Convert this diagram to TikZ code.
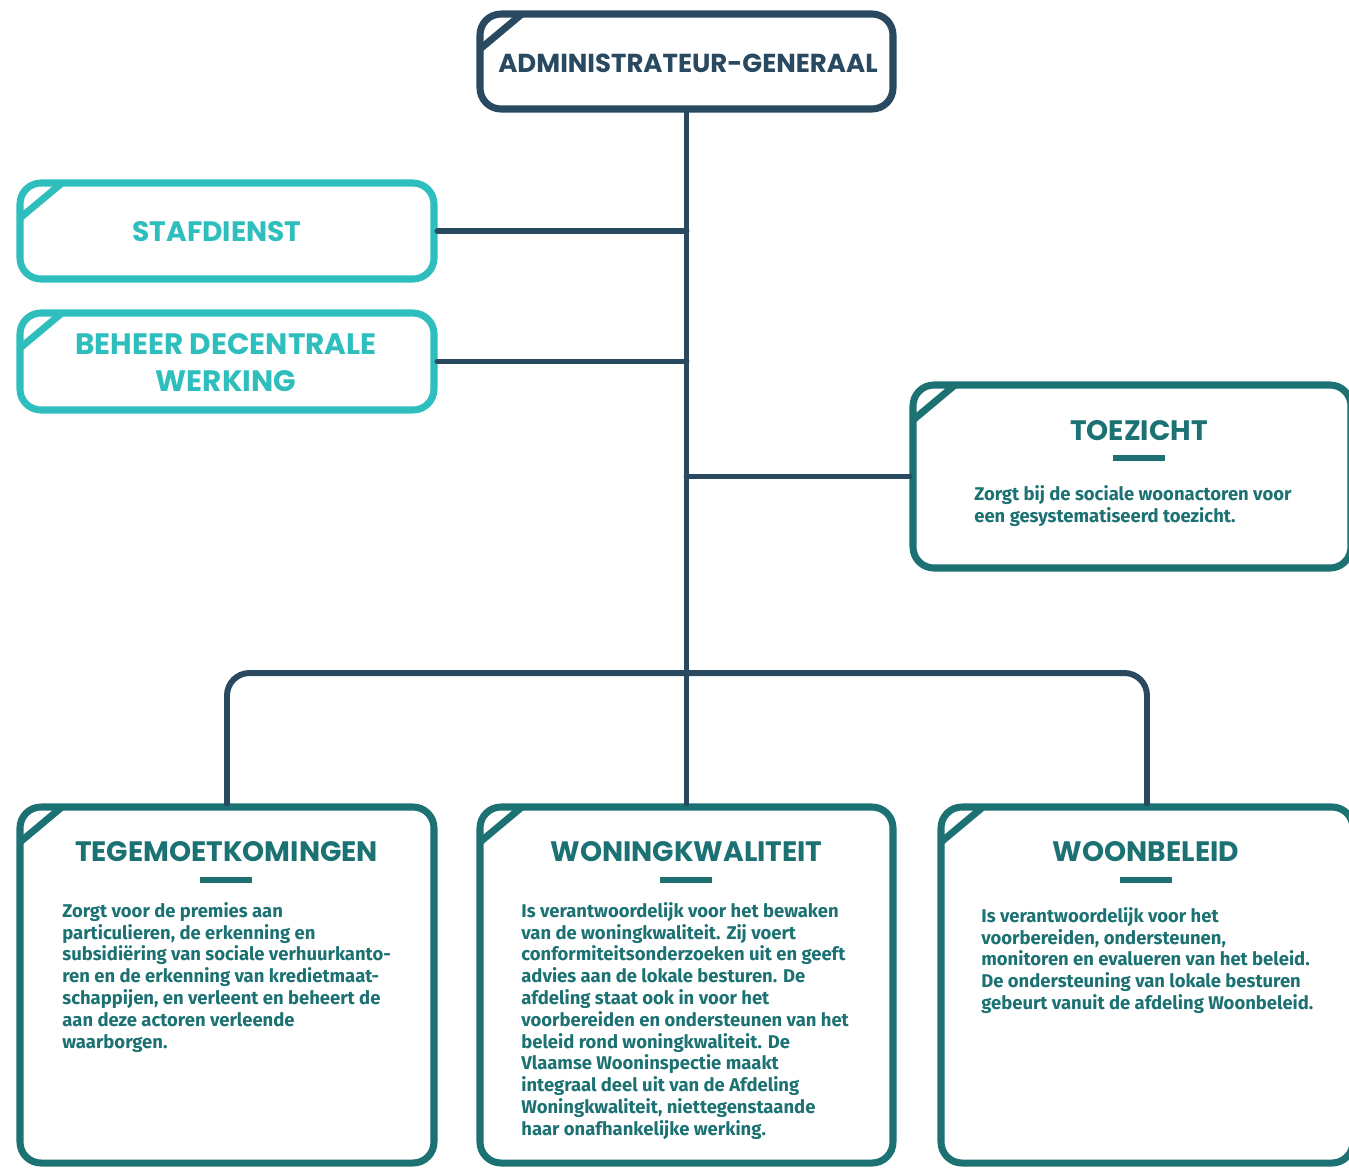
\documentclass[tikz,border=0pt]{standalone}
\usepackage{fontspec}
\setmainfont{Fira Sans}
\newfontfamily\kopletter{Poppins}
\usetikzlibrary{calc}
\definecolor{donkerBlauw}{HTML}{28495F}
\definecolor{turkoois}{HTML}{2FBEBE}
\definecolor{petrol}{HTML}{1C7173}
\tikzset{
  afdeling/.style={draw=#1, fill=white, line width=4pt, rounded corners=0.42cm, inner sep=0pt,
    path picture={\draw[#1, line width=4pt]
      ($(path picture bounding box.north west)+(-0.13,-0.81)$) --
      ($(path picture bounding box.north west)+(0.97,0.11)$);}},
  kop/.style={font=\kopletter\bfseries\fontsize{16}{21}\selectfont, align=center},
  tekst/.style={font=\bfseries\fontsize{10.5}{12.4}\selectfont, align=left, anchor=north west, inner sep=0pt, petrol},
  lijn/.style={donkerBlauw, line width=3.4pt, line cap=round}
}

\begin{document}
\begin{tikzpicture}
\useasboundingbox (0,0) rectangle (26.98,-23.34);
\clip (0,0) rectangle (26.98,-23.34);
% kaders
\node[afdeling=donkerBlauw, minimum width=8.26cm, minimum height=1.9cm] (admin) at (13.73,-1.23) {};
\node[afdeling=turkoois, minimum width=8.28cm, minimum height=1.92cm] (staf) at (4.54,-4.62) {};
\node[afdeling=turkoois, minimum width=8.28cm, minimum height=1.94cm] (beheer) at (4.54,-7.23) {};
\node[afdeling=petrol, minimum width=8.76cm, minimum height=3.66cm] (toezicht) at (22.64,-9.53) {};
\node[afdeling=petrol, minimum width=8.28cm, minimum height=7.12cm] (tegem) at (4.54,-19.70) {};
\node[afdeling=petrol, minimum width=8.26cm, minimum height=7.12cm] (woning) at (13.73,-19.70) {};
\node[afdeling=petrol, minimum width=8.24cm, minimum height=7.12cm] (woonb) at (22.94,-19.70) {};
% verbindingen
\coordinate (bus) at (13.73,-13.46);
\draw[lijn] (admin) -- (woning);
\draw[lijn] (staf.east) -- (staf.east -| admin.south);
\draw[lijn] (beheer.east) -- (beheer.east -| admin.south);
\draw[lijn] (toezicht.west) -- (toezicht.west -| admin.south);
\draw[lijn, rounded corners=0.45cm] (tegem.north) |- (bus) -| (woonb.north);
% titels
\node[kop, donkerBlauw, font=\kopletter\bfseries\fontsize{14.8}{21}\selectfont] (adminKop) at (13.76,-1.26) {ADMINISTRATEUR-GENERAAL};
\node[kop, turkoois] (stafKop) at (4.34,-4.64) {STAFDIENST};
\node[kop, turkoois, font=\kopletter\bfseries\fontsize{16.8}{21}\selectfont] (beheerKop) at (4.52,-7.25) {BEHEER DECENTRALE\\WERKING};
\node[kop, petrol] (toezichtKop) at (22.78,-8.62) {TOEZICHT};
\node[kop, petrol] (tegemKop) at (4.53,-17.04) {TEGEMOETKOMINGEN};
\node[kop, petrol] (woningKop) at (13.73,-17.04) {WONINGKWALITEIT};
\node[kop, petrol] (woonbKop) at (22.92,-17.04) {WOONBELEID};
% streepjes onder de titels
\foreach \x/\y in {22.78/-9.16, 4.52/-17.60, 13.72/-17.60, 22.92/-17.60}
  \fill[petrol] (\x-0.52,\y-0.06) rectangle (\x+0.52,\y+0.06);
% omschrijvingen
\node[tekst] (toezichtTekst) at (19.48,-9.70) {Zorgt bij de sociale woonactoren voor\\
een gesystematiseerd toezicht.};
\node[tekst] (tegemTekst) at (1.24,-18.04) {Zorgt voor de premies aan\\
particulieren, de erkenning en\\
subsidiëring van sociale verhuurkanto-\\
ren en de erkenning van kredietmaat-\\
schappijen, en verleent en beheert de\\
aan deze actoren verleende\\
waarborgen.};
\node[tekst] (woningTekst) at (10.42,-18.04) {Is verantwoordelijk voor het bewaken\\
van de woningkwaliteit. Zij voert\\
conformiteitsonderzoeken uit en geeft\\
advies aan de lokale besturen. De\\
afdeling staat ook in voor het\\
voorbereiden en ondersteunen van het\\
beleid rond woningkwaliteit. De\\
Vlaamse Wooninspectie maakt\\
integraal deel uit van de Afdeling\\
Woningkwaliteit, niettegenstaande\\
haar onafhankelijke werking.};
\node[tekst] (woonbTekst) at (19.62,-18.14) {Is verantwoordelijk voor het\\
voorbereiden, ondersteunen,\\
monitoren en evalueren van het beleid.\\
De ondersteuning van lokale besturen\\
gebeurt vanuit de afdeling Woonbeleid.};
\end{tikzpicture}
\end{document}
